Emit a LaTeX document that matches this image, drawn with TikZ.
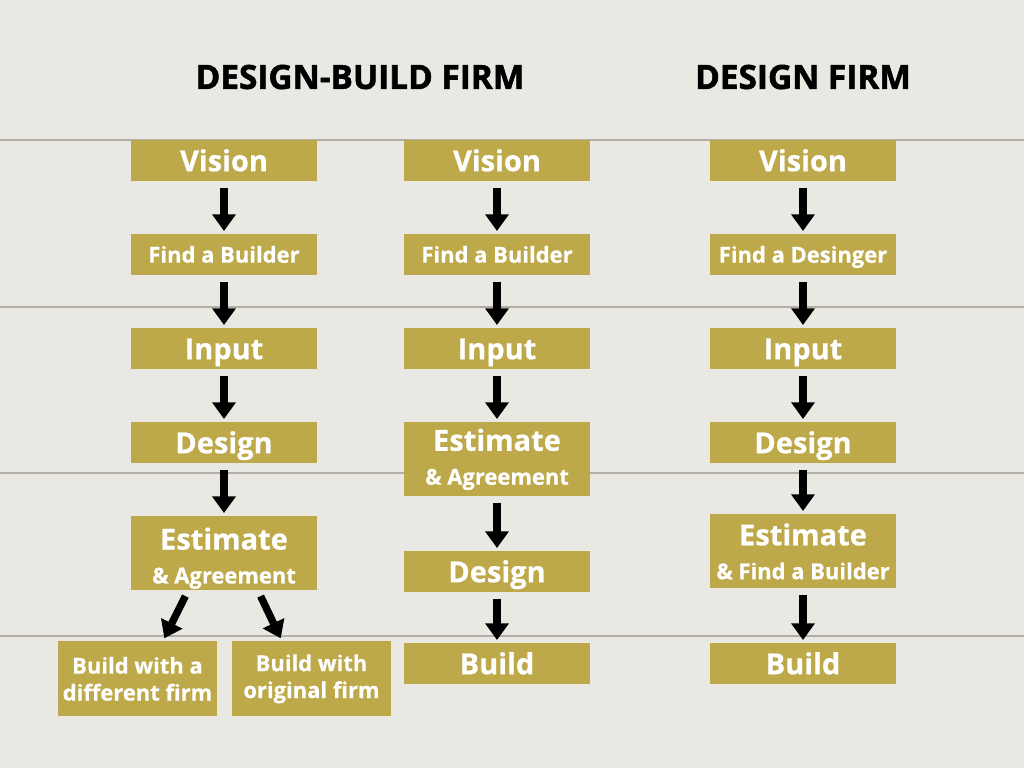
\documentclass[tikz,border=0pt]{standalone}
\usepackage{fontspec}
\setmainfont{Open Sans}[BoldFeatures={FakeBold=0.6}]
\newfontfamily\headfont{Open Sans}[BoldFeatures={FakeBold=1.6}]
\usetikzlibrary{arrows.meta}
\definecolor{boxgold}{RGB}{189,169,74}
\definecolor{woodbg}{RGB}{234,232,226}
\definecolor{plank}{RGB}{178,174,166}
\def\bigfont{\fontsize{16.5}{19}\selectfont\bfseries}
\def\smallfont{\fontsize{12.5}{15}\selectfont\bfseries}

\begin{document}
\begin{tikzpicture}[x=0.02cm, y=-0.02cm,
	stagebox/.style={fill=boxgold, text=white, inner sep=0pt, anchor=north,
		minimum width=3.72cm, minimum height=0.82cm, align=center},
	bigstage/.style={stagebox, font=\bigfont, text height=11.8pt, text depth=0pt},
	smallstage/.style={stagebox, font=\smallfont, text height=8.9pt, text depth=0pt},
	twostage/.style={stagebox, minimum height=1.48cm, font=\fontsize{12.5}{19.3}\selectfont\bfseries},
	endstage/.style={stagebox, minimum width=3.18cm, minimum height=1.5cm, font=\fontsize{12.5}{15.3}\selectfont\bfseries},
	heading/.style={font=\headfont\fontsize{19}{22}\selectfont\bfseries, text=black, inner sep=0pt},
	flow/.style={line width=4.2pt, black, -{Triangle[width=13pt,length=9.5pt]},
		shorten <=0.12cm, shorten >=0.06cm}]
		%%%%% BACKGROUND %%%%%
		
		\fill[woodbg] (0, 0) rectangle (1024, 768);
		\useasboundingbox (0, 0) rectangle (1024, 768);
		\foreach \yy in {140, 307, 473, 636}
			\draw[plank, line width=1.2pt] (0, \yy) -- (1024, \yy);
		
		%%%%% HEADINGS %%%%%
		
		\node[heading] (t1) at (360, 77) {DESIGN-BUILD FIRM};
		\node[heading] (t2) at (803, 77) {DESIGN FIRM};
		
		%%%%% DESIGN-BUILD, FIRST WAY %%%%%
		
		\node[bigstage] (v1) at (224, 140) {Vision};
		\node[smallstage] (f1) at (224, 234) {Find a Builder};
		\node[bigstage] (i1) at (224, 328) {Input};
		\node[bigstage] (d1) at (224, 422) {Design};
		\node[twostage] (e1) at (224, 516) {{\bigfont\rule{0pt}{18pt}Estimate}\\\& Agreement};
		\node[endstage] (ba) at (137.5, 641) {Build with a\\different firm};
		\node[endstage] (bb) at (311.5, 641) {Build with\\original firm};
		
		\draw[flow] (v1) -- (f1);
		\draw[flow] (f1) -- (i1);
		\draw[flow] (i1) -- (d1);
		\draw[flow] (d1) -- (e1);
		\draw[flow] ([xshift=-0.72cm]e1.south) -- ([xshift=0.51cm]ba.north);
		\draw[flow] ([xshift=0.68cm]e1.south) -- ([xshift=-0.59cm]bb.north);
		
		%%%%% DESIGN-BUILD, SECOND WAY %%%%%
		
		\node[bigstage] (v2) at (497, 140) {Vision};
		\node[smallstage] (f2) at (497, 234) {Find a Builder};
		\node[bigstage] (i2) at (497, 328) {Input};
		\node[twostage] (e2) at (497, 422) {{\bigfont Estimate}\\\& Agreement};
		\node[bigstage] (d2) at (497, 551) {Design};
		\node[bigstage] (b2) at (497, 643) {Build};
		
		\draw[flow] (v2) -- (f2);
		\draw[flow] (f2) -- (i2);
		\draw[flow] (i2) -- (e2);
		\draw[flow] (e2) -- (d2);
		\draw[flow] (d2) -- (b2);
		
		%%%%% DESIGN FIRM %%%%%
		
		\node[bigstage] (v3) at (803, 140) {Vision};
		\node[smallstage] (f3) at (803, 234) {Find a Desinger};
		\node[bigstage] (i3) at (803, 328) {Input};
		\node[bigstage] (d3) at (803, 422) {Design};
		\node[twostage] (e3) at (803, 514) {{\bigfont Estimate}\\\& Find a Builder};
		\node[bigstage] (b3) at (803, 643) {Build};
		
		\draw[flow] (v3) -- (f3);
		\draw[flow] (f3) -- (i3);
		\draw[flow] (i3) -- (d3);
		\draw[flow] (d3) -- (e3);
		\draw[flow] (e3) -- (b3);
		
		%%%%% END %%%%%
	\end{tikzpicture}
\end{document}
